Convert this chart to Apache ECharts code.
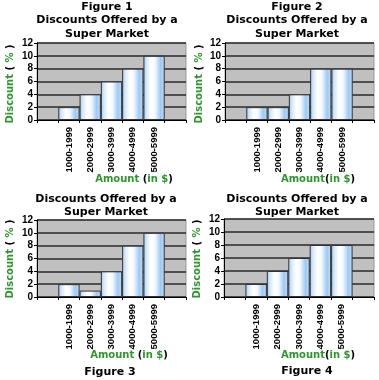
<!DOCTYPE html>
<html>
<head>
<meta charset="utf-8">
<script src="https://cdn.jsdelivr.net/npm/echarts@6/dist/echarts.min.js"></script>
<style>html,body{margin:0;padding:0;background:#fff;}#c{width:379px;height:380px;}</style>
</head>
<body>
<div id="c"></div>
<script>
const categories = ['', '1000-1999', '2000-2999', '3000-3999', '4000-4999', '5000-5999', ''];
const fig1 = [2, 4, 6, 8, 10];
const fig2 = [2, 2, 4, 8, 8];
const fig3 = [2, 1, 4, 8, 10];
const fig4 = [2, 4, 6, 8, 8];
const yMin = 0, yMax = 12, yStep = 2;

const GREEN = '#2f962f';
const chart = echarts.init(document.getElementById('c'), null, {renderer: 'canvas'});

const grids = [
  {left: 37, top: 43, width: 149, height: 77},
  {left: 225, top: 43, width: 149, height: 77},
  {left: 37, top: 220, width: 149, height: 77},
  {left: 224, top: 219, width: 150, height: 78}
];
const datasets = [fig1, fig2, fig3, fig4];

const barGrad = new echarts.graphic.LinearGradient(0, 0, 1, 0, [
  {offset: 0, color: '#a9cdf3'},
  {offset: 0.18, color: '#dcecfb'},
  {offset: 0.35, color: '#ffffff'},
  {offset: 0.55, color: '#f4f9ff'},
  {offset: 0.8, color: '#9ccaf6'},
  {offset: 1, color: '#c5def7'}
]);

const xAxis = [], yAxis = [], series = [];
grids.forEach((g, i) => {
  g.show = true;
  g.backgroundColor = '#c0c0c0';
  g.borderColor = '#9a9a9a';
  g.borderWidth = 1;
  xAxis.push({
    type: 'category', gridIndex: i, data: categories,
    axisLine: {lineStyle: {color: '#000', width: 1}},
    axisTick: {show: true, length: 3, lineStyle: {color: '#000'}},
    axisLabel: {interval: 0, rotate: 90, margin: 7, fontFamily: 'Liberation Sans', fontWeight: 'bold', fontSize: 9.5, color: '#000'},
    splitLine: {show: false}
  });
  yAxis.push({
    type: 'value', gridIndex: i, min: yMin, max: yMax, interval: yStep,
    axisLine: {show: true, lineStyle: {color: '#000'}},
    axisTick: {show: true, length: 3, lineStyle: {color: '#000'}},
    axisLabel: {margin: 4, fontFamily: 'Liberation Sans', fontWeight: 'bold', fontSize: 10, color: '#000'},
    splitLine: {show: true, lineStyle: {color: '#2a2a2a', width: 1.5}}
  });
  series.push({
    type: 'bar', xAxisIndex: i, yAxisIndex: i,
    data: ['-'].concat(datasets[i]).concat(['-']),
    barCategoryGap: '0%',
    itemStyle: {color: barGrad, borderColor: '#333', borderWidth: 1},
    silent: true
  });
});

const tFont = {fontFamily: 'DejaVu Sans', fontWeight: 'bold', fontSize: 11, fill: '#000'};
function txt(x, y, s) {
  return {type: 'text', x: x, y: y, style: Object.assign({text: s, align: 'center', verticalAlign: 'middle'}, tFont)};
}
const richStyle = {
  g: {fontFamily: 'DejaVu Sans', fontWeight: 'bold', fontSize: 10, fill: GREEN, color: GREEN},
  k: {fontFamily: 'DejaVu Sans', fontWeight: 'bold', fontSize: 10, fill: '#000', color: '#000'}
};
function rich(x, y, s, rot) {
  return {type: 'text', x: x, y: y, rotation: rot || 0,
    style: {text: s, rich: richStyle, align: 'center', verticalAlign: 'middle', fontFamily: 'DejaVu Sans', fontWeight: 'bold', fontSize: 10, fill: GREEN}};
}

const graphic = [
  txt(107, 7, 'Figure 1'), txt(107, 20, 'Discounts Offered by a'), txt(107, 34, 'Super Market'),
  txt(297, 7, 'Figure 2'), txt(297, 20, 'Discounts Offered by a'), txt(297, 34, 'Super Market'),
  txt(106, 199, 'Discounts Offered by a'), txt(106, 212, 'Super Market'),
  txt(297, 199, 'Discounts Offered by a'), txt(297, 212, 'Super Market'),
  txt(110, 372, 'Figure 3'), txt(307, 371, 'Figure 4'),
  rich(134, 179, '{g|Amount} {k|(}{g|in $}{k|)}'),
  rich(318, 179, '{g|Amount}{k|(}{g|in $}{k|)}'),
  rich(129, 355, '{g|Amount} {k|(}{g|in $}{k|)}'),
  rich(318, 355, '{g|Amount}{k|(}{g|in $}{k|)}'),
  rich(10, 84, '{g|Discount} {k|(} {g|%} {k|)}', Math.PI / 2),
  rich(199, 84, '{g|Discount} {k|(} {g|%} {k|)}', Math.PI / 2),
  rich(10, 259, '{g|Discount} {k|(} {g|%} {k|)}', Math.PI / 2),
  rich(197, 259, '{g|Discount} {k|(} {g|%} {k|)}', Math.PI / 2)
];

chart.setOption({
  animation: false,
  backgroundColor: '#fff',
  grid: grids,
  xAxis: xAxis,
  yAxis: yAxis,
  series: series,
  graphic: graphic
});
</script>
</body>
</html>
